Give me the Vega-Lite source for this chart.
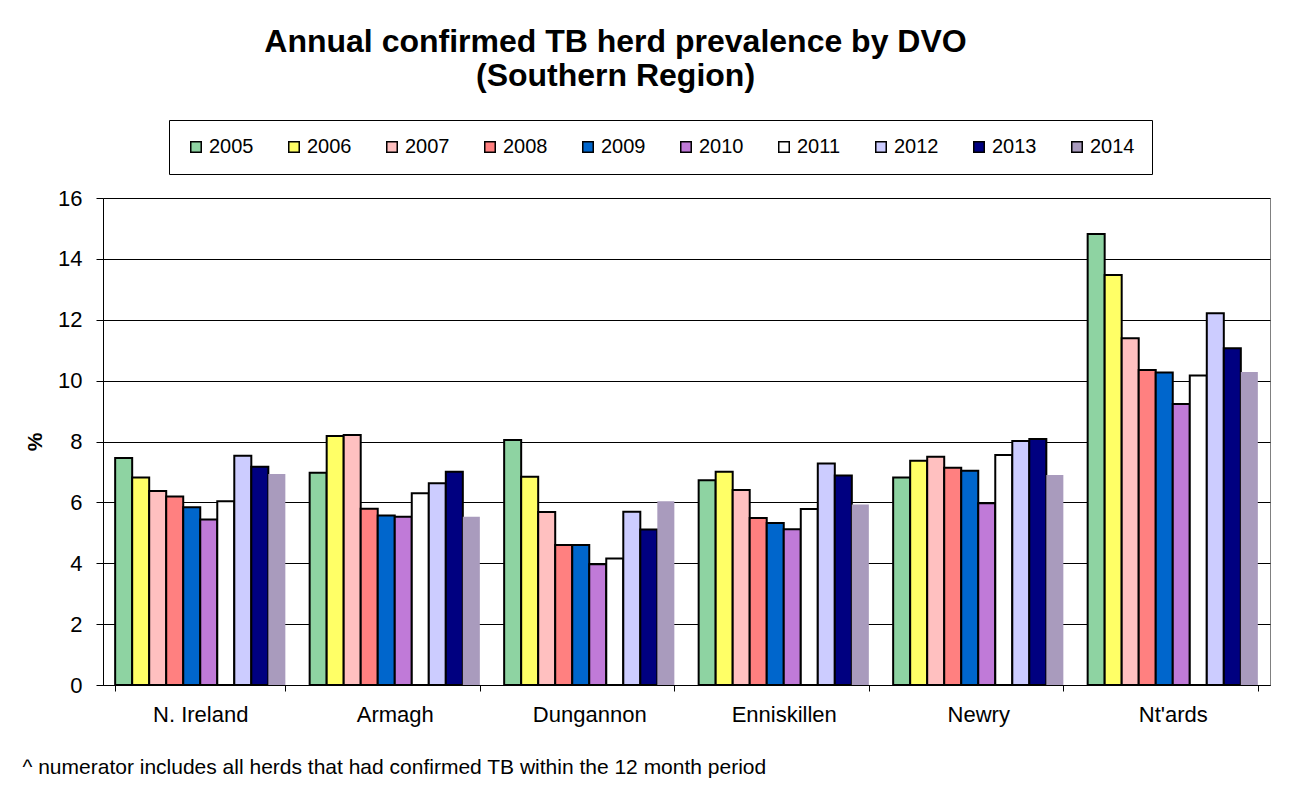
{
  "$schema": "https://vega.github.io/schema/vega-lite/v6.json",
  "width": 1167,
  "height": 487,
  "autosize": {"type": "none"},
  "padding": {"left": 103, "top": 198, "right": 22, "bottom": 110},
  "background": "white",
  "title": {
    "text": ["Annual confirmed TB herd prevalence by DVO", "(Southern Region)"],
    "font": "Liberation Sans",
    "fontSize": 32,
    "fontWeight": "bold",
    "color": "black",
    "lineHeight": 34,
    "anchor": "middle",
    "dx": -71,
    "offset": 27
  },
  "config": {
    "font": "Liberation Sans",
    "view": {"stroke": "#808080", "strokeWidth": 1}
  },
  "data": {
    "values": [
      {"dvo": "N. Ireland", "year": "2005", "value": 7.46},
      {"dvo": "N. Ireland", "year": "2006", "value": 6.82},
      {"dvo": "N. Ireland", "year": "2007", "value": 6.37},
      {"dvo": "N. Ireland", "year": "2008", "value": 6.19},
      {"dvo": "N. Ireland", "year": "2009", "value": 5.84},
      {"dvo": "N. Ireland", "year": "2010", "value": 5.44},
      {"dvo": "N. Ireland", "year": "2011", "value": 6.04},
      {"dvo": "N. Ireland", "year": "2012", "value": 7.53},
      {"dvo": "N. Ireland", "year": "2013", "value": 7.17},
      {"dvo": "N. Ireland", "year": "2014", "value": 6.93},
      {"dvo": "Armagh", "year": "2005", "value": 6.97},
      {"dvo": "Armagh", "year": "2006", "value": 8.18},
      {"dvo": "Armagh", "year": "2007", "value": 8.21},
      {"dvo": "Armagh", "year": "2008", "value": 5.79},
      {"dvo": "Armagh", "year": "2009", "value": 5.57},
      {"dvo": "Armagh", "year": "2010", "value": 5.53},
      {"dvo": "Armagh", "year": "2011", "value": 6.30},
      {"dvo": "Armagh", "year": "2012", "value": 6.63},
      {"dvo": "Armagh", "year": "2013", "value": 7.01},
      {"dvo": "Armagh", "year": "2014", "value": 5.53},
      {"dvo": "Dungannon", "year": "2005", "value": 8.05},
      {"dvo": "Dungannon", "year": "2006", "value": 6.84},
      {"dvo": "Dungannon", "year": "2007", "value": 5.68},
      {"dvo": "Dungannon", "year": "2008", "value": 4.60},
      {"dvo": "Dungannon", "year": "2009", "value": 4.60},
      {"dvo": "Dungannon", "year": "2010", "value": 3.97},
      {"dvo": "Dungannon", "year": "2011", "value": 4.16},
      {"dvo": "Dungannon", "year": "2012", "value": 5.69},
      {"dvo": "Dungannon", "year": "2013", "value": 5.11},
      {"dvo": "Dungannon", "year": "2014", "value": 6.04},
      {"dvo": "Enniskillen", "year": "2005", "value": 6.73},
      {"dvo": "Enniskillen", "year": "2006", "value": 7.01},
      {"dvo": "Enniskillen", "year": "2007", "value": 6.41},
      {"dvo": "Enniskillen", "year": "2008", "value": 5.49},
      {"dvo": "Enniskillen", "year": "2009", "value": 5.32},
      {"dvo": "Enniskillen", "year": "2010", "value": 5.12},
      {"dvo": "Enniskillen", "year": "2011", "value": 5.78},
      {"dvo": "Enniskillen", "year": "2012", "value": 7.28},
      {"dvo": "Enniskillen", "year": "2013", "value": 6.88},
      {"dvo": "Enniskillen", "year": "2014", "value": 5.93},
      {"dvo": "Newry", "year": "2005", "value": 6.82},
      {"dvo": "Newry", "year": "2006", "value": 7.37},
      {"dvo": "Newry", "year": "2007", "value": 7.50},
      {"dvo": "Newry", "year": "2008", "value": 7.14},
      {"dvo": "Newry", "year": "2009", "value": 7.04},
      {"dvo": "Newry", "year": "2010", "value": 5.97},
      {"dvo": "Newry", "year": "2011", "value": 7.56},
      {"dvo": "Newry", "year": "2012", "value": 8.02},
      {"dvo": "Newry", "year": "2013", "value": 8.08},
      {"dvo": "Newry", "year": "2014", "value": 6.90},
      {"dvo": "Nt'ards", "year": "2005", "value": 14.82},
      {"dvo": "Nt'ards", "year": "2006", "value": 13.47},
      {"dvo": "Nt'ards", "year": "2007", "value": 11.39},
      {"dvo": "Nt'ards", "year": "2008", "value": 10.35},
      {"dvo": "Nt'ards", "year": "2009", "value": 10.27},
      {"dvo": "Nt'ards", "year": "2010", "value": 9.23},
      {"dvo": "Nt'ards", "year": "2011", "value": 10.17},
      {"dvo": "Nt'ards", "year": "2012", "value": 12.21},
      {"dvo": "Nt'ards", "year": "2013", "value": 11.06},
      {"dvo": "Nt'ards", "year": "2014", "value": 10.28}
    ]
  },
  "mark": {"type": "bar", "strokeWidth": 2},
  "encoding": {
    "x": {
      "field": "dvo",
      "type": "nominal",
      "sort": null,
      "scale": {"paddingInner": 0.125, "paddingOuter": 0.0625},
      "axis": {
        "title": "^ numerator includes all herds that had confirmed TB within the 12 month period",
        "titleFontSize": 21,
        "titleFontWeight": "normal",
        "titleColor": "black",
        "titleAlign": "left",
        "titleAnchor": "start",
        "titleBaseline": "top",
        "titleX": -81,
        "titleY": 71,
        "labelAngle": 0,
        "labelFontSize": 22,
        "labelColor": "black",
        "labelPadding": 13,
        "tickBand": "extent",
        "tickColor": "black",
        "tickSize": 6,
        "domainColor": "black",
        "domainWidth": 1
      }
    },
    "xOffset": {"field": "year", "type": "nominal", "scale": {"paddingInner": 0, "paddingOuter": 0}},
    "y": {
      "field": "value",
      "type": "quantitative",
      "scale": {"domain": [0, 16], "nice": false},
      "axis": {
        "title": "%",
        "titleFontSize": 21,
        "titleFontWeight": "bold",
        "titleColor": "black",
        "titlePadding": 12,
        "values": [0, 2, 4, 6, 8, 10, 12, 14, 16],
        "labelFontSize": 22,
        "labelColor": "black",
        "labelPadding": 14,
        "tickColor": "black",
        "tickSize": 7,
        "domainColor": "black",
        "gridColor": "black",
        "gridOpacity": 1,
        "gridWidth": 1
      }
    },
    "color": {
      "field": "year",
      "type": "nominal",
      "scale": {
        "domain": ["2005", "2006", "2007", "2008", "2009", "2010", "2011", "2012", "2013", "2014"],
        "range": ["#8ed3a2", "#ffff66", "#ffc0c0", "#ff8080", "#0066cc", "#c07ad8", "#ffffff", "#ccccff", "#000080", "#a99bbd"]
      },
      "legend": {
        "title": null,
        "orient": "none",
        "legendX": 66,
        "legendY": -78,
        "direction": "horizontal",
        "columns": 10,
        "columnPadding": 30,
        "padding": 17,
        "strokeColor": "black",
        "fillColor": "white",
        "symbolType": "square",
        "symbolSize": 110,
        "symbolStrokeColor": "black",
        "symbolStrokeWidth": 1.5,
        "symbolOpacity": 1,
        "labelFontSize": 20,
        "labelColor": "black",
        "labelOffset": 3
      }
    },
    "stroke": {
      "condition": {"test": "datum.year === '2014'", "value": null},
      "value": "black"
    },
    "opacity": {"value": 1}
  }
}
